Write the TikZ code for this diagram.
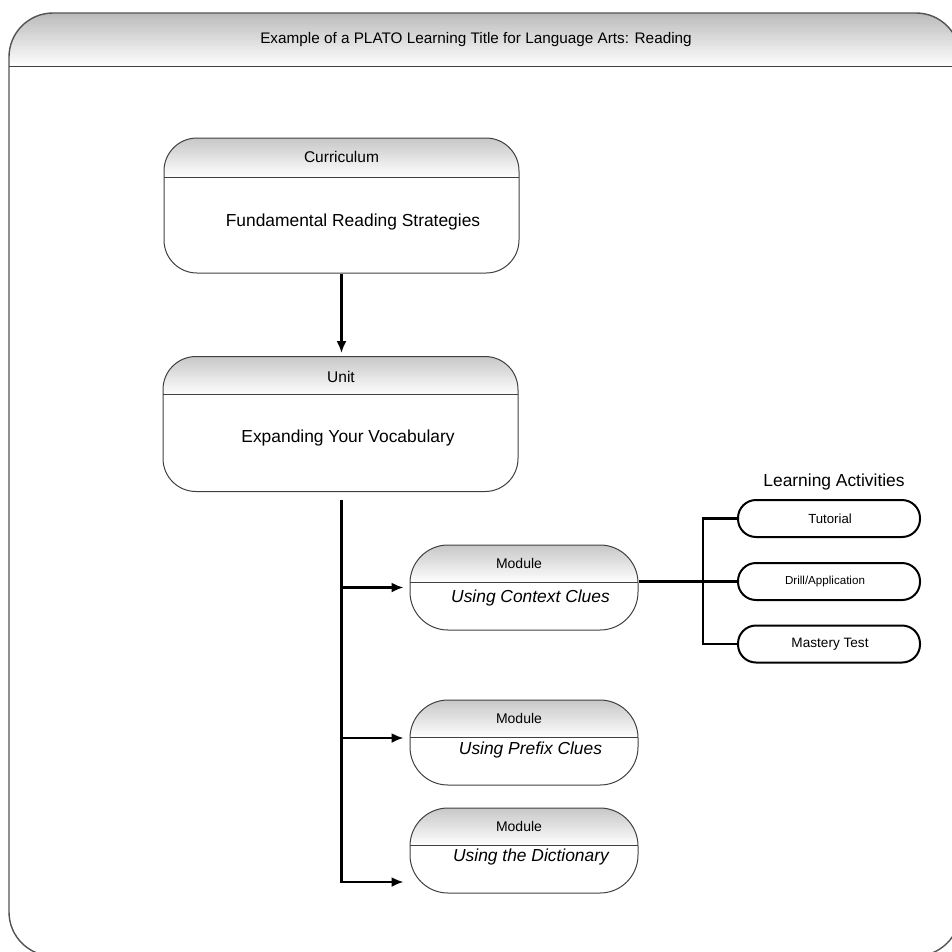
\documentclass[tikz,border=0pt]{standalone}
\usepackage{fontspec}
\setmainfont{Liberation Sans}
\usetikzlibrary{arrows.meta}
\definecolor{frametop}{HTML}{BCBCBC}
\definecolor{boxtop}{HTML}{C8C8C8}
\definecolor{edge}{HTML}{404040}
\tikzset{
  header/.style 2 args={path picture={
    \foreach \i in {0,...,19}{
      \pgfmathtruncatemacro\p{100-\i*5}
      \fill[sharp corners, #2!\p!white]
        ([yshift={-\i*#1/20}]path picture bounding box.north west) rectangle
        ([yshift={-(\i+1)*#1/20-0.4pt}]path picture bounding box.north east);
    }
    \draw[sharp corners, line width=1pt,draw=edge]
      ([yshift=-#1]path picture bounding box.north west) -- ([yshift=-#1]path picture bounding box.north east);}},
  framebox/.style={draw=edge!90, line width=1.4pt, rounded corners=44pt,
    minimum width=951pt, minimum height=943pt, inner sep=0pt, header={53pt}{frametop}},
  bigbox/.style={draw=edge, line width=1pt, rounded corners=33pt,
    minimum width=355pt, minimum height=135pt, inner sep=0pt},
  modbox/.style={draw=edge, line width=1pt, rounded corners=38pt,
    minimum width=228pt, minimum height=85pt, inner sep=0pt, header={37pt}{boxtop}},
  actbox/.style={draw=black, line width=2pt, rounded corners=18pt,
    minimum width=182pt, minimum height=37pt, inner sep=0pt},
  hdtext/.style={font=\fontsize{15.5}{17}\selectfont, inner sep=0pt},
  modhd/.style={font=\fontsize{14}{16}\selectfont, inner sep=0pt},
  bodytext/.style={font=\fontsize{17.4}{19}\selectfont, inner sep=0pt},
  modtext/.style={font=\itshape\fontsize{17.4}{19}\selectfont, inner sep=0pt},
  acttext/.style={font=\fontsize{13.2}{15}\selectfont, inner sep=0pt},
  conn/.style={draw=black, line width=2.2pt},
  arr/.style={conn, -{Latex[length=12pt,width=10pt]}},
}
\begin{document}
\begin{tikzpicture}[x=1pt,y=-1pt]
\useasboundingbox (0,0) rectangle (952,951);
\clip (0,0) rectangle (952,951);
% outer frame
\node[framebox] (frame) at (484.5,484.5) {};
\node[font=\fontsize{15.3}{17}\selectfont, inner sep=0pt] (title) at (476,40) {Example of a PLATO Learning Title for Language Arts: Reading};
% curriculum
\node[bigbox, header={39pt}{boxtop}] (cur) at (341.5,205.5) {};
\node[hdtext] (curh) at (341.5,157) {Curriculum};
\node[bodytext] (curb) at (353,222) {Fundamental Reading Strategies};
% unit
\node[bigbox, header={38pt}{boxtop}] (unit) at (340.5,424) {};
\node[hdtext] (unith) at (341,377) {Unit};
\node[bodytext] (unitb) at (348,438) {Expanding Your Vocabulary};
% modules
\node[modbox] (m1) at (524,587.5) {};
\node[modhd] (m1h) at (519,563) {Module};
\node[modtext] (m1b) at (530.5,598) {Using Context Clues};
\node[modbox] (m2) at (524,742.5) {};
\node[modhd] (m2h) at (519,718) {Module};
\node[modtext] (m2b) at (530.5,750) {Using Prefix Clues};
\node[modbox] (m3) at (524,850.5) {};
\node[modhd] (m3h) at (519,826) {Module};
\node[modtext] (m3b) at (531,857) {Using the Dictionary};
% learning activities
\node[bodytext] (lah) at (834,482) {Learning Activities};
\node[actbox] (a1) at (829,518.5) {};
\node[acttext] (a1t) at (830,518.5) {Tutorial};
\node[actbox] (a2) at (829,581.5) {};
\node[acttext, font=\fontsize{11.6}{13}\selectfont] (a2t) at (825,581.5) {Drill/Application};
\node[actbox] (a3) at (829,644) {};
\node[acttext, font=\fontsize{13.6}{15}\selectfont] (a3t) at (830,644) {Mastery Test};
% connectors
\draw[arr, shorten >=3pt] (cur.south) -- (cur.south |- unit.north);
\coordinate (trunk) at (341.5,500);
\draw[arr, shorten >=6pt] (trunk) |- ([yshift=-31.5pt]m3.west);
\draw[arr, shorten >=6pt] (trunk |- m1.west) -- (m1.west);
\draw[arr, shorten >=6pt] ([yshift=4.5pt]m2.west -| trunk) -- ([yshift=4.5pt]m2.west);
\coordinate (bar) at (703,500);
\draw[conn] (m1.east |- a2.west) -- (a2.west);
\draw[conn] (a1.west) -| (bar |- a3.west) -- (a3.west);
\end{tikzpicture}
\end{document}
